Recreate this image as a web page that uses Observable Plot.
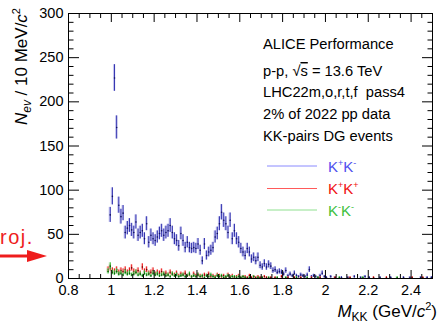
<!DOCTYPE html>
<html><head><meta charset="utf-8">
<script src="https://cdn.jsdelivr.net/npm/d3@7"></script>
<script src="https://cdn.jsdelivr.net/npm/@observablehq/plot@0.6"></script>
<style>html,body{margin:0;padding:0;background:#fff;} svg{display:block}</style>
</head><body><div id="chart"></div>
<script>
// bin centres (GeV/c^2), 10 MeV bins
const binCenters = [0.985,0.995,1.005,1.015,1.025,1.035,1.045,1.055,1.065,1.075,
1.085,1.095,1.105,1.115,1.125,1.135,1.145,1.155,1.165,1.175,
1.185,1.195,1.205,1.215,1.225,1.235,1.245,1.255,1.265,1.275,
1.285,1.295,1.305,1.315,1.325,1.335,1.345,1.355,1.365,1.375,
1.385,1.395,1.405,1.415,1.425,1.435,1.445,1.455,1.465,1.475,
1.485,1.495,1.505,1.515,1.525,1.535,1.545,1.555,1.565,1.575,
1.585,1.595,1.605,1.615,1.625,1.635,1.645,1.655,1.665,1.675,
1.685,1.695,1.705,1.715,1.725,1.735,1.745,1.755,1.765,1.775,
1.785,1.795,1.805,1.815,1.825,1.835,1.845,1.855,1.865,1.875,
1.885,1.895,1.905,1.915,1.925,1.935,1.945,1.955,1.965,1.975,
1.985,1.995];
const binWidth = 0.01;

// K+K- counts per bin (0 = empty)
const kpkmCounts = [0,72,93,227,171,83,70,74,52,57,
60,55,52,64,49,52,54,45,62,41,
49,45,43,47,51,54,49,52,54,60,
52,45,43,37,51,43,35,41,35,34,
35,34,39,32,20,39,26,30,32,35,
47,51,62,75,66,62,52,66,45,54,
45,41,34,30,26,34,30,22,24,20,
24,15,13,17,13,16,14,9,10,7,
8,7,5,9,3,5,3,6,3,2,
4,3,2,4,10,2,3,2,1,3,
6,2];
// K+K+ counts per bin
const kpkpCounts = [10,12,9,8,10,7,9,8,10,7,
9,12,8,7,9,6,13,8,10,6,
7,9,5,7,6,8,5,6,4,7,
5,4,6,3,5,4,6,3,4,2,
5,3,4,3,2,4,3,5,2,3,
2,4,3,2,3,1,4,2,3,1,
2,3,1,2,2,1,3,1,2,1,
2,1,1,2,1,0,1,0,1,0,
0,2,0,0,1,0,0,1,0,0,
1,0,0,0,0,1,0,0,0,1,
0,0];
// K-K- counts per bin
const kmkmCounts = [8,14,7,6,8,5,6,4,7,5,
6,4,5,7,4,5,3,6,4,5,
3,6,4,5,3,4,5,3,4,2,
5,3,4,2,3,4,2,3,5,2,
3,2,4,2,3,1,3,2,4,2,
1,3,2,3,1,2,3,1,2,2,
1,2,1,2,1,0,1,0,2,0,
1,0,1,0,0,1,0,0,0,1,
0,0,0,1,0,0,0,0,1,0,
0,0,0,1,0,0,0,0,1,0,
0,0];
// sparse entries above 2 GeV/c^2
const kpkmHighMass = [2.005,2.025,2.045,2.075,2.105,2.135,2.165,2.185,2.205,2.255,2.305,2.365,2.395,2.445,2.475,2.495];
const kpkmHighCounts = [1,2,1,1,1,2,1,2,1,1,1,1,1,1,1,1];
const kpkpHighMass = [2.045,2.115,2.225,2.285,2.405,2.455];
const kpkpHighCounts = [1,1,1,1,1,1];
const kmkmHighMass = [2.065,2.175,2.335];
const kmkmHighCounts = [1,1,1];

const xTicks = [0.8,1,1.2,1.4,1.6,1.8,2,2.2,2.4];
const xTickLabels = ["0.8","1","1.2","1.4","1.6","1.8","2","2.2","2.4"];
const xMinorTicks = [0.85,0.9,0.95,1.05,1.1,1.15,1.25,1.3,1.35,1.45,1.5,1.55,1.65,1.7,1.75,1.85,1.9,1.95,2.05,2.1,2.15,2.25,2.3,2.35,2.45,2.5];
const yTicks = [0,50,100,150,200,250,300];
const yTickLabels = ["0","50","100","150","200","250","300"];
const yMinorTicks = [10,20,30,40,60,70,80,90,110,120,130,140,160,170,180,190,210,220,230,240,260,270,280,290];

function rows(mass, counts) {
  return mass.map((m, i) => ({m, n: counts[i]}))
    .filter(d => d.n > 0)
    .map(d => ({...d, lo: Math.max(0, d.n - Math.sqrt(d.n)), hi: d.n + Math.sqrt(d.n)}));
}
const kpkm = rows(binCenters.concat(kpkmHighMass), kpkmCounts.concat(kpkmHighCounts));
const kpkp = rows(binCenters.concat(kpkpHighMass), kpkpCounts.concat(kpkpHighCounts));
const kmkm = rows(binCenters.concat(kmkmHighMass), kmkmCounts.concat(kmkmHighCounts));

function seriesMarks(data, box, bar, marker) {
  return [
    Plot.rect(data, {x1: d => d.m - binWidth * 0.5, x2: d => d.m + binWidth * 0.5, y1: "lo", y2: "hi", fill: box, fillOpacity: 0.55}),
    Plot.ruleX(data, {x: "m", y1: "lo", y2: "hi", stroke: bar, strokeWidth: 1}),
    Plot.dot(data, {x: "m", y: "n", r: 0.8, fill: marker, stroke: null})
  ];
}

const fmtX = d => xTickLabels[xTicks.indexOf(d)];
const fmtY = d => yTickLabels[yTicks.indexOf(d)];
const blank = () => "";

const chart = Plot.plot({
  width: 438, height: 323,
  marginLeft: 68, marginRight: 6, marginTop: 13, marginBottom: 45,
  x: {domain: [0.8, 2.5], label: null},
  y: {domain: [0, 300], label: null},
  style: {fontFamily: "'Liberation Sans', Arial, sans-serif", background: "white", color: "black", overflow: "visible"},
  marks: [
    ...seriesMarks(kpkm, "#9494e0", "#3434b0", "#12125e"),
    ...seriesMarks(kpkp, "#ff9c9c", "#e81818", "#6a0000"),
    ...seriesMarks(kmkm, "#a0e4a0", "#2fb52f", "#0a5a0a"),
    Plot.frame({stroke: "black", strokeWidth: 1}),
    Plot.axisX({anchor: "bottom", ticks: xTicks, tickSize: -8, tickFormat: blank}),
    Plot.axisX({anchor: "bottom", ticks: xMinorTicks, tickSize: -4, tickFormat: blank}),
    Plot.axisX({anchor: "top", ticks: xTicks, tickSize: -8, tickFormat: blank}),
    Plot.axisX({anchor: "top", ticks: xMinorTicks, tickSize: -4, tickFormat: blank}),
    Plot.axisX({anchor: "bottom", ticks: xTicks, tickSize: 0, tickPadding: 6, tickFormat: fmtX, fontSize: 14.5, fill: "black"}),
    Plot.axisY({anchor: "left", ticks: yTicks, tickSize: -11, tickFormat: blank}),
    Plot.axisY({anchor: "left", ticks: yMinorTicks, tickSize: -5.5, tickFormat: blank}),
    Plot.axisY({anchor: "right", ticks: yTicks, tickSize: -11, tickFormat: blank}),
    Plot.axisY({anchor: "right", ticks: yMinorTicks, tickSize: -5.5, tickFormat: blank}),
    Plot.axisY({anchor: "left", ticks: yTicks, tickSize: 0, tickPadding: 5, tickFormat: fmtY, fontSize: 14.5, fill: "black"})
  ]
});
document.getElementById("chart").appendChild(chart);

const svg = d3.select(chart);
const font = "'Liberation Sans', Arial, sans-serif";

// x-axis title
const xt = svg.append("text").attr("x", 437).attr("y", 317).attr("text-anchor", "end")
  .style("font-family", font).style("font-size", "17px").attr("fill", "black");
xt.append("tspan").attr("font-style", "italic").text("M");
xt.append("tspan").attr("font-size", "12px").attr("dy", 4).text("KK");
xt.append("tspan").attr("dy", -4).text(" (GeV/");
xt.append("tspan").attr("font-style", "italic").text("c");
xt.append("tspan").attr("font-size", "11px").attr("dy", -7).text("2");
xt.append("tspan").attr("dy", 7).text(")");

// y-axis title
const yt = svg.append("text").attr("transform", "translate(27,8) rotate(-90)").attr("text-anchor", "end")
  .style("font-family", font).style("font-size", "17px").attr("fill", "black");
yt.append("tspan").attr("font-style", "italic").text("N");
yt.append("tspan").attr("font-style", "italic").attr("font-size", "12px").attr("dy", 4).text("ev");
yt.append("tspan").attr("dy", -4).text(" / 10 MeV/");
yt.append("tspan").attr("font-style", "italic").text("c");
yt.append("tspan").attr("font-size", "11px").attr("dy", -7).text("2");

// info text
const infoX = 263;
const info = [
  {y: 49, parts: [{t: "ALICE Performance"}]},
  {y: 76, parts: [{t: "p-p, √"}, {t: "s", over: true}, {t: " = 13.6 TeV"}]},
  {y: 97, parts: [{t: "LHC22m,o,r,t,f  pass4"}]},
  {y: 119, parts: [{t: "2% of 2022 pp data"}]},
  {y: 141, parts: [{t: "KK-pairs DG events"}]}
];
info.forEach(line => {
  const el = svg.append("text").attr("x", infoX).attr("y", line.y).attr("text-anchor", "start")
    .style("font-family", font).style("font-size", "14.7px").style("white-space", "pre").attr("fill", "black");
  line.parts.forEach(p => {
    const ts = el.append("tspan").text(p.t);
    if (p.over) ts.style("text-decoration", "overline");
  });
});

// legend
const legend = [
  {y: 166, line: "#8a8aff", color: "#4f4fee", a: "+", b: "-"},
  {y: 188.5, line: "#ff5a5a", color: "#f01010", a: "+", b: "+"},
  {y: 210, line: "#8fe08f", color: "#40c040", a: "-", b: "-"}
];
legend.forEach(l => {
  svg.append("line").attr("x1", 267).attr("x2", 317).attr("y1", l.y).attr("y2", l.y)
    .attr("stroke", l.line).attr("stroke-width", 1);
  const el = svg.append("text").attr("x", 328).attr("y", l.y + 5.5).attr("text-anchor", "start")
    .style("font-family", font).style("font-size", "15px").attr("fill", l.color);
  el.append("tspan").text("K");
  el.append("tspan").attr("font-size", "9px").attr("dy", -6).text(l.a);
  el.append("tspan").attr("dy", 6).text("K");
  el.append("tspan").attr("font-size", "9px").attr("dy", -6).text(l.b);
});

// slide fragment at the left edge
svg.append("text").attr("x", 0).attr("y", 244).attr("text-anchor", "start").style("font-family", font).style("font-size", "20px")
  .style("letter-spacing", "1.5px").attr("fill", "#ee1c1c").text("roj.");
svg.append("line").attr("x1", 0).attr("x2", 30).attr("y1", 256).attr("y2", 256)
  .attr("stroke", "#ee1c1c").attr("stroke-width", 3);
svg.append("path").attr("d", "M27,250 L47,256 L27,262 Z").attr("fill", "#ee1c1c");
</script>
</body></html>
